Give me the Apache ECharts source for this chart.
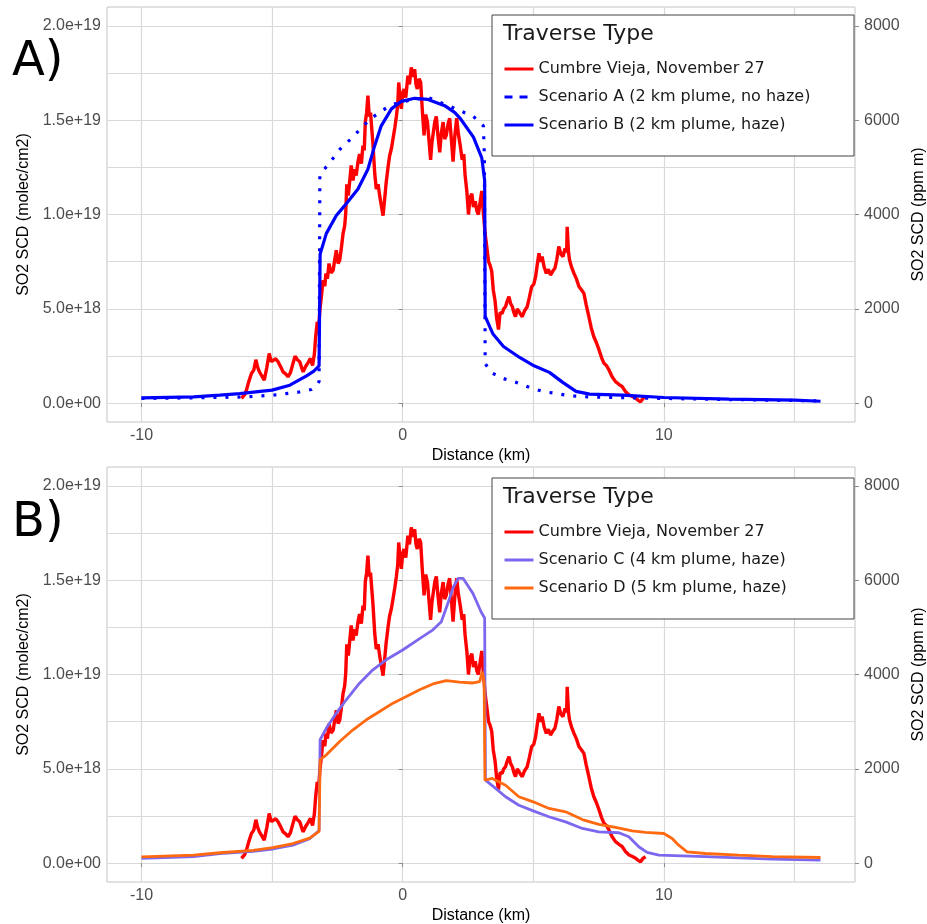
<!DOCTYPE html>
<html>
<head>
<meta charset="utf-8">
<script src="https://cdn.jsdelivr.net/npm/echarts@6/dist/echarts.min.js"></script>
<style>
html, body { margin: 0; padding: 0; background: #fff; }
#main { width: 927px; height: 924px; }
</style>
</head>
<body>
<div id="main"></div>
<script>
// SO2 SCD values are in units of 1e18 molec/cm2 (1e18 molec/cm2 = 400 ppm m)

// measured traverse, Cumbre Vieja, November 27 (same in both panels)
const cvKm = [-6.17, -6.1, -6.05, -5.98, -5.9, -5.79, -5.7, -5.62, -5.55, -5.48, -5.41, -5.3, -5.2, -5.11, -5.03,
  -4.96, -4.86, -4.77, -4.68, -4.58, -4.48, -4.39, -4.3, -4.22, -4.12, -4.03, -3.94, -3.86, -3.81, -3.72, -3.62,
  -3.53, -3.45, -3.38, -3.33, -3.27, -3.22, -3.17, -3.1, -3.05, -2.98, -2.94, -2.88, -2.82, -2.74, -2.66, -2.6,
  -2.54, -2.47, -2.41, -2.34, -2.28, -2.22, -2.18, -2.14, -2.08, -2.02, -1.97, -1.9, -1.84, -1.78, -1.71, -1.65,
  -1.58, -1.52, -1.47, -1.43, -1.38, -1.33, -1.28, -1.23, -1.18, -1.14, -1.07, -1.01, -0.94, -0.88, -0.82, -0.75,
  -0.69, -0.63, -0.56, -0.5, -0.43, -0.37, -0.3, -0.24, -0.19, -0.15, -0.1, -0.05, 0.0, 0.05, 0.12, 0.2, 0.26,
  0.33, 0.4, 0.46, 0.51, 0.56, 0.63, 0.69, 0.75, 0.82, 0.88, 0.95, 1.01, 1.07, 1.12, 1.17, 1.23, 1.29, 1.35, 1.42,
  1.48, 1.55, 1.61, 1.67, 1.74, 1.8, 1.87, 1.93, 2.0, 2.07, 2.13, 2.2, 2.28, 2.34, 2.39, 2.46, 2.52, 2.58, 2.65,
  2.71, 2.78, 2.84, 2.9, 2.96, 3.03, 3.09, 3.16, 3.22, 3.29, 3.35, 3.41, 3.47, 3.54, 3.6, 3.67, 3.73, 3.81, 3.87,
  3.94, 4.0, 4.07, 4.13, 4.2, 4.26, 4.32, 4.39, 4.45, 4.52, 4.58, 4.67, 4.77, 4.85, 4.94, 5.02, 5.09, 5.16, 5.22,
  5.28, 5.34, 5.42, 5.5, 5.58, 5.66, 5.75, 5.83, 5.9, 5.98, 6.06, 6.14, 6.22, 6.28, 6.3, 6.35, 6.39, 6.47, 6.56,
  6.65, 6.75, 6.85, 6.94, 7.03, 7.13, 7.22, 7.32, 7.42, 7.52, 7.62, 7.71, 7.8, 7.9, 8.02, 8.15, 8.28, 8.41, 8.54,
  8.67, 8.8, 8.92, 9.02, 9.11, 9.2, 9.3];
const cvSCD = [0.25, 0.16, 0.45, 0.69, 1.1, 1.57, 1.75, 2.3, 1.9, 1.65, 1.48, 1.22, 1.9, 2.63, 2.2,
  2.1, 2.35, 2.19, 1.95, 1.66, 1.55, 1.4, 1.6, 2.0, 2.49, 2.3, 2.19, 1.85, 1.66, 1.93, 2.15,
  2.37, 2.0, 2.6, 3.52, 4.3, 3.9, 4.93, 5.8, 6.52, 6.2, 6.87, 6.6, 7.4, 6.9, 7.05, 7.6,
  8.1, 7.4, 7.57, 8.3, 9.0, 9.4, 10.05, 11.6, 11.0, 11.1, 12.6, 11.8, 12.4, 12.06, 12.8, 13.2,
  12.7, 13.65, 13.4, 14.9, 15.4, 16.3, 15.2, 15.4, 14.5, 13.8, 12.2, 11.35, 11.6, 11.0, 10.5, 9.94,
  10.8, 11.7, 12.5, 13.1, 13.5, 14.0, 14.6, 15.2, 15.8, 17.0, 16.2, 15.6, 16.4, 16.65, 16.2, 17.36, 16.9,
  17.8, 17.3, 17.7, 16.9, 16.65, 17.2, 17.0, 15.6, 14.2, 15.3, 14.9, 13.9, 12.9, 13.8, 14.3, 14.9, 15.2, 14.2, 13.3,
  14.3, 14.9, 14.0, 14.2, 14.8, 15.1, 13.9, 12.8, 14.2, 15.1, 14.3, 13.7, 12.9, 13.2, 12.1, 11.2, 10.0, 10.9, 11.1,
  10.4, 10.7, 10.2, 10.0, 10.6, 11.25, 10.1, 8.96, 8.3, 7.5, 7.3, 7.0, 6.0, 5.4, 4.5, 3.9, 4.8, 4.76, 5.0,
  5.11, 5.4, 5.65, 5.3, 5.11, 4.8, 4.58, 5.0, 4.94, 4.7, 4.58, 4.9, 5.11, 5.6, 6.18, 6.3, 6.7, 7.4, 7.94,
  7.5, 7.77, 7.2, 6.88, 7.1, 6.79, 7.0, 7.15, 7.6, 8.3, 7.9, 7.77, 8.2, 8.0, 9.35, 8.0, 7.59, 7.2, 6.88,
  6.6, 6.18, 6.0, 5.82, 5.2, 4.58, 4.0, 3.52, 3.2, 2.82, 2.4, 2.11, 2.0, 1.76, 1.4, 1.14, 1.0, 0.87, 0.6,
  0.43, 0.35, 0.26, 0.15, 0.07, 0.25, 0.34];

// Scenario A (2 km plume, no haze)
const scAKm = [-10, -8, -6, -5, -4.5, -4, -3.5, -3.3, -3.2, -3.17, -3.0, -2.79, -2.4, -2.02, -1.64, -1.25, -0.8,
  -0.36, 0.41, 0.98, 1.69, 2.2, 2.71, 3.09, 3.13, 3.16, 3.39, 3.84, 4.35, 4.86, 5.37, 5.88, 6.39, 6.96, 8, 10, 12, 14, 16];
const scASCD = [0.25, 0.28, 0.33, 0.42, 0.5, 0.58, 0.72, 0.9, 1.15, 12.1, 12.4, 12.75, 13.46, 13.96, 14.5, 15.05, 15.5,
  15.85, 16.1, 16.2, 15.8, 15.5, 15.2, 14.7, 13.1, 2.1, 1.62, 1.31, 1.1, 0.83, 0.62, 0.51, 0.39, 0.34, 0.3, 0.25, 0.2, 0.16, 0.12];

// Scenario B (2 km plume, haze)
const scBKm = [-10, -8, -7, -6.24, -5, -4.32, -3.68, -3.4, -3.2, -3.16, -2.92, -2.54, -2.22, -1.71, -1.33, -1.07,
  -0.82, -0.43, -0.05, 0.46, 0.97, 1.61, 2.0, 2.2, 2.71, 3.03, 3.14, 3.16, 3.35, 3.46, 3.86, 4.48, 5.03, 5.62, 6.13,
  6.64, 7.16, 8.43, 10.0, 12.5, 15.0, 16.0];
const scBSCD = [0.28, 0.33, 0.42, 0.5, 0.69, 0.95, 1.45, 1.7, 1.97, 7.9, 9.0, 9.95, 10.47, 11.35, 12.4, 13.65,
  14.7, 15.6, 16.0, 16.16, 16.1, 15.77, 15.4, 15.1, 14.1, 13.0, 11.8, 4.6, 4.0, 3.66, 3.0, 2.42, 1.98, 1.63, 1.1,
  0.62, 0.48, 0.42, 0.3, 0.21, 0.16, 0.1];

// Scenario C (4 km plume, haze)
const scCKm = [-10, -8, -7, -5.73, -4.97, -4.2, -3.56, -3.2, -3.16, -2.92, -2.54, -2.16, -1.65, -1.14, -0.63, 0,
  0.65, 1.16, 1.48, 1.74, 1.93, 2.12, 2.31, 2.69, 3.01, 3.14, 3.17, 3.56, 3.94, 4.45, 5.0, 5.6, 6.24, 6.88, 7.51,
  8.28, 8.66, 9.04, 9.36, 9.81, 11.59, 14.15, 16.0];
const scCSCD = [0.25, 0.35, 0.5, 0.62, 0.75, 0.95, 1.3, 1.73, 6.54, 7.16, 7.95, 8.66, 9.54, 10.25, 10.78, 11.3,
  11.9, 12.37, 12.8, 13.8, 14.6, 15.1, 15.1, 14.3, 13.3, 13.0, 4.4, 3.96, 3.52, 3.07, 2.77, 2.46, 2.19, 1.84, 1.66,
  1.61, 1.4, 0.87, 0.57, 0.42, 0.34, 0.21, 0.16];

// Scenario D (5 km plume, haze)
const scDKm = [-10, -8, -7, -5.73, -4.97, -4.2, -3.56, -3.2, -3.16, -2.92, -2.41, -1.9, -1.39, -0.88, -0.37, 0.14,
  0.65, 1.16, 1.67, 2.18, 2.69, 2.95, 3.05, 3.12, 3.15, 3.43, 3.94, 4.45, 5.0, 5.6, 6.24, 6.88, 7.51, 8.15, 8.79,
  9.3, 10.0, 10.32, 10.57, 10.89, 11.59, 12.87, 14.15, 16.0];
const scDSCD = [0.33, 0.42, 0.55, 0.68, 0.82, 1.04, 1.33, 1.68, 5.48, 5.74, 6.45, 7.07, 7.6, 8.04, 8.48, 8.83,
  9.19, 9.5, 9.68, 9.6, 9.55, 9.62, 10.15, 9.6, 4.4, 4.49, 4.13, 3.52, 3.25, 2.9, 2.72, 2.31, 2.05, 1.89, 1.71,
  1.63, 1.57, 1.31, 0.95, 0.6, 0.51, 0.42, 0.34, 0.3];

// axis breaks
const xTicks = [-10, 0, 10];
const xGrid = [-10, -5, 0, 5, 10, 15];
const yTicks = [0, 5, 10, 15, 20];
const yGrid = [0, 2.5, 5, 7.5, 10, 12.5, 15, 17.5, 20];
const ppmTicks = [0, 2000, 4000, 6000, 8000];

const nameCV = 'Cumbre Vieja, November 27';
const nameA = 'Scenario A (2 km plume, no haze)';
const nameB = 'Scenario B (2 km plume, haze)';
const nameC = 'Scenario C (4 km plume, haze)';
const nameD = 'Scenario D (5 km plume, haze)';

const pairs = (xs, ys) => xs.map((x, i) => [x, ys[i]]);

function sciLabel(v) {
  if (v === 0) return '0.0e+00';
  const full = v * 1e18;
  const e = Math.floor(Math.log10(full) + 1e-9);
  return (full / Math.pow(10, e)).toFixed(1) + 'e+' + e;
}

const X_MIN = -11.32, X_MAX = 17.32;
const Y_MIN = -1, Y_MAX = 21;
const gridColor = '#d9d9d9';
const labelStyle = { fontFamily: 'Liberation Sans', fontSize: 16, color: '#4d4d4d' };
const nameStyle = { fontFamily: 'Liberation Sans', fontSize: 16, color: '#000' };

var myChart = echarts.init(document.getElementById('main'));

let grids = [
  { left: 107, right: 72, top: 7, height: 415 },
  { left: 107, right: 72, top: 467, height: 415 }
];
grids.forEach(g => {
  g.show = true; g.borderColor = '#c4c4c4'; g.borderWidth = 1;
  g.containLabel = false; g.outerBoundsMode = 'none';
});

let xAxes = [];
let yAxes = [];
for (let g = 0; g < 2; g++) {
  // grid lines only
  xAxes.push({
    gridIndex: g, type: 'value', min: X_MIN, max: X_MAX, position: 'top',
    axisLine: { show: false }, axisTick: { show: false, customValues: xGrid },
    axisLabel: { show: false, customValues: xGrid },
    splitLine: { show: true, lineStyle: { color: gridColor, width: 1.2 } }
  });
  xAxes.push({
    gridIndex: g, type: 'value', min: X_MIN, max: X_MAX, position: 'bottom',
    axisLine: { show: false },
    axisTick: { show: true, length: 4, lineStyle: { color: '#8c8c8c' }, customValues: xTicks },
    axisLabel: Object.assign({ customValues: xTicks, margin: 6 }, labelStyle),
    splitLine: { show: false },
    name: 'Distance (km)', nameLocation: 'middle', nameGap: 26, nameTextStyle: nameStyle
  });
  yAxes.push({
    gridIndex: g, type: 'value', min: Y_MIN, max: Y_MAX, position: 'right',
    axisLine: { show: false }, axisTick: { show: false, customValues: yGrid },
    axisLabel: { show: false, customValues: yGrid },
    splitLine: { show: true, lineStyle: { color: gridColor, width: 1.2 } }
  });
  yAxes.push({
    gridIndex: g, type: 'value', min: Y_MIN, max: Y_MAX, position: 'left',
    axisLine: { show: false },
    axisTick: { show: true, length: 4, lineStyle: { color: '#8c8c8c' }, customValues: yTicks },
    axisLabel: Object.assign({ customValues: yTicks, margin: 6, formatter: sciLabel }, labelStyle),
    splitLine: { show: false },
    name: 'SO2 SCD (molec/cm2)', nameLocation: 'middle', nameGap: 72, nameRotate: 90, nameTextStyle: nameStyle
  });
  yAxes.push({
    gridIndex: g, type: 'value', min: Y_MIN * 400, max: Y_MAX * 400, position: 'right',
    axisLine: { show: false },
    axisTick: { show: true, length: 4, lineStyle: { color: '#8c8c8c' }, customValues: ppmTicks },
    axisLabel: Object.assign({ customValues: ppmTicks, margin: 9, formatter: v => String(v) }, labelStyle),
    splitLine: { show: false },
    name: 'SO2 SCD (ppm m)', nameLocation: 'middle', nameGap: 56, nameRotate: 90, nameTextStyle: nameStyle
  });
}

function lineSeries(name, g, xs, ys, color, width, dash) {
  return {
    name: name, type: 'line', xAxisIndex: g * 2 + 1, yAxisIndex: g * 3 + 1,
    data: pairs(xs, ys), symbol: 'none', showSymbol: false,
    lineStyle: { color: color, width: width, type: dash || 'solid', cap: 'butt' },
    itemStyle: { color: color }
  };
}

let series = [
  lineSeries(nameCV, 0, cvKm, cvSCD, '#ff0000', 3.4),
  lineSeries(nameA, 0, scAKm, scASCD, '#0000ff', 3.2, [3, 9]),
  lineSeries(nameB, 0, scBKm, scBSCD, '#0000ff', 3.2),
  lineSeries(nameCV, 1, cvKm, cvSCD, '#ff0000', 3.4),
  lineSeries(nameC, 1, scCKm, scCSCD, '#7b68ee', 2.8),
  lineSeries(nameD, 1, scDKm, scDSCD, '#ff6a10', 2.8)
];

const legendText = { fontFamily: 'DejaVu Sans', fontSize: 16, color: '#1a1a1a' };
function legendAt(top, names) {
  return {
    orient: 'vertical', left: 503, top: top, padding: 0, itemWidth: 29, itemHeight: 14, itemGap: 12,
    selectedMode: false, z: 20, data: names, textStyle: legendText,
    itemStyle: { opacity: 0 }, lineStyle: { width: 3 }
  };
}

function legendBox(top) {
  return [
    { type: 'rect', shape: { x: 492, y: top, width: 362, height: 141 },
      style: { fill: '#fff', stroke: '#444', lineWidth: 1 }, z: 10 },
    { type: 'text', x: 503, y: top + 19, z: 11,
      style: { text: 'Traverse Type', font: '22px "DejaVu Sans"', fill: '#1a1a1a', textVerticalAlign: 'middle', verticalAlign: 'middle' } }
  ];
}

var option = {
  animation: false,
  backgroundColor: '#fff',
  grid: grids,
  xAxis: xAxes,
  yAxis: yAxes,
  legend: [
    legendAt(61, [nameCV, { name: nameA, lineStyle: { type: [8, 7] } }, nameB]),
    legendAt(524, [nameCV, nameC, nameD])
  ],
  graphic: [].concat(
    legendBox(15),
    legendBox(478),
    [
      { type: 'text', x: 12, y: 63, z: 11,
        style: { text: 'A)', font: '48px "DejaVu Sans"', fill: '#000', textVerticalAlign: 'middle', verticalAlign: 'middle' } },
      { type: 'text', x: 12, y: 524, z: 11,
        style: { text: 'B)', font: '48px "DejaVu Sans"', fill: '#000', textVerticalAlign: 'middle', verticalAlign: 'middle' } }
    ]
  ),
  series: series
};

myChart.setOption(option);
</script>
</body>
</html>
